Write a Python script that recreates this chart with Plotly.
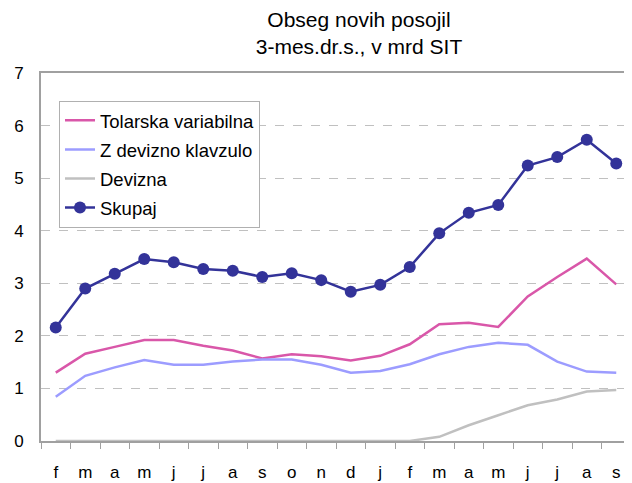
import plotly.graph_objects as go

months = ["f", "m", "a", "m", "j", "j", "a", "s", "o", "n", "d", "j",
          "f", "m", "a", "m", "j", "j", "a", "s"]
x_idx = list(range(len(months)))

tolarska = [1.30, 1.66, 1.79, 1.92, 1.92, 1.81, 1.72, 1.57, 1.65, 1.61,
            1.53, 1.62, 1.84, 2.22, 2.25, 2.17, 2.75, 3.12, 3.47, 2.98]
z_devizno = [0.84, 1.24, 1.40, 1.54, 1.45, 1.45, 1.51, 1.55, 1.55, 1.45,
             1.30, 1.33, 1.46, 1.65, 1.79, 1.87, 1.83, 1.51, 1.32, 1.30]
devizna = [0.0, 0.0, 0.0, 0.0, 0.0, 0.0, 0.0, 0.0, 0.0, 0.0,
           0.0, 0.0, 0.0, 0.08, 0.30, 0.49, 0.68, 0.79, 0.94, 0.97]
skupaj = [2.16, 2.90, 3.18, 3.46, 3.40, 3.27, 3.24, 3.12, 3.19, 3.06,
          2.84, 2.97, 3.31, 3.95, 4.34, 4.49, 5.24, 5.40, 5.73, 5.28]

FONT = "Liberation Sans, Arial, sans-serif"

fig = go.Figure()
fig.add_trace(go.Scatter(x=x_idx, y=tolarska, name="Tolarska variabilna", mode="lines",
                         line=dict(color="#d957a9", width=2.5), legendgroup="a"))
fig.add_trace(go.Scatter(x=x_idx, y=z_devizno, name="Z devizno klavzulo", mode="lines",
                         line=dict(color="#9c9cff", width=2.5), legendgroup="b"))
fig.add_trace(go.Scatter(x=x_idx, y=devizna, name="Devizna", mode="lines",
                         line=dict(color="#c0c0c0", width=2.5), legendgroup="c"))
fig.add_trace(go.Scatter(x=x_idx, y=skupaj, name="Skupaj", mode="lines+markers",
                         line=dict(color="#333399", width=2.5),
                         marker=dict(color="#333399", size=12), legendgroup="d"))

# page has an 8px body margin: figure is 624x475 so it fills the 632x483 window
fig.update_layout(
    width=624, height=475,
    margin=dict(l=33, r=1, t=65, b=40),
    paper_bgcolor="white", plot_bgcolor="white",
    font=dict(family=FONT, size=17, color="black"),
    title=dict(text="Obseg novih posojil<br>3-mes.dr.s., v mrd SIT",
               x=(359 - 8) / 624, xanchor="center", y=1 - 19 / 475, yanchor="top",
               font=dict(family=FONT, size=21, color="black")),
    showlegend=True,
    legend=dict(x=(59 - 41) / 590, y=(443 - 101) / 370, xanchor="left", yanchor="top",
                bgcolor="white", bordercolor="#b0b0b0", borderwidth=1,
                font=dict(family=FONT, size=18.5, color="black"),
                traceorder="grouped", tracegroupgap=2, itemwidth=30),
    xaxis=dict(
        tickmode="array", tickvals=x_idx, ticktext=months,
        range=[-0.5, len(months) - 0.5],
        showgrid=False, zeroline=False,
        showline=True, linecolor="#a0a0a0", linewidth=2, mirror=True,
        ticks="",
        minor=dict(tickmode="linear", tick0=-0.5, dtick=1, ticks="outside",
                   ticklen=6, tickcolor="#a0a0a0", tickwidth=1, showgrid=False),
        tickfont=dict(family=FONT, size=17, color="black"),
        ticklabelstandoff=15,
    ),
    yaxis=dict(
        range=[0, 7], dtick=1, tick0=0,
        showgrid=True, gridcolor="#c0c0c0", griddash="dash", gridwidth=1,
        zeroline=False,
        showline=True, linecolor="#a0a0a0", linewidth=2,
        ticks="", tickfont=dict(family=FONT, size=17, color="black"),
        ticklabelstandoff=12,
    ),
)

fig.write_html("out.html")
